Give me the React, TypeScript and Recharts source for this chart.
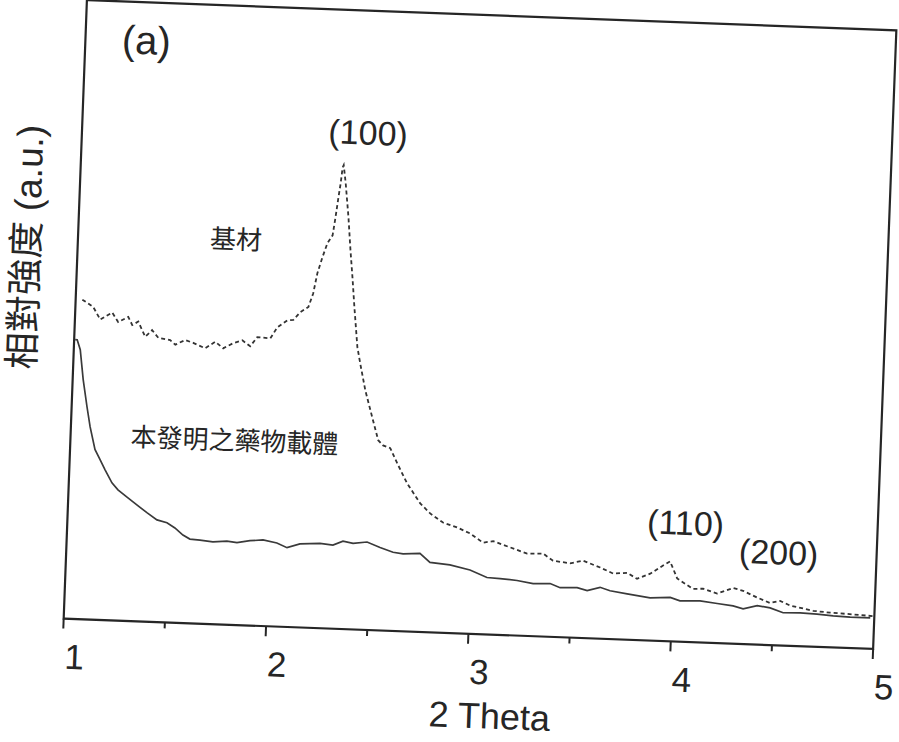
import React from "react";
import { LineChart, Line, XAxis, YAxis, ReferenceArea } from "recharts";

// 2 Theta positions and relative intensities (a.u.)
const substrateX = [
  1.033, 1.088, 1.125, 1.183, 1.214, 1.263, 1.284, 1.313, 1.35, 1.383, 1.415, 1.474, 1.5, 1.548, 1.588,
  1.648, 1.697, 1.737, 1.786, 1.83, 1.87, 1.903, 1.968, 2.0, 2.048, 2.078, 2.111, 2.15, 2.171, 2.188,
  2.21, 2.232, 2.256, 2.267, 2.278, 2.286, 2.293, 2.298, 2.311, 2.331, 2.347, 2.362, 2.377, 2.399, 2.416,
  2.446, 2.485, 2.519, 2.544, 2.58, 2.617, 2.67, 2.737, 2.789, 2.854, 2.924, 2.99, 3.055, 3.105, 3.19,
  3.275, 3.354, 3.404, 3.489, 3.552, 3.638, 3.703, 3.772, 3.822, 3.886, 3.948, 3.982, 4.02, 4.1, 4.15,
  4.22, 4.298, 4.348, 4.418, 4.483, 4.532, 4.583, 4.697, 4.781, 4.865, 4.994,
];
const substrateY = [
  51.6, 50.5, 48.5, 49.7, 48.2, 49.1, 47.8, 48.4, 46.0, 47.1, 45.9, 45.6, 44.9, 45.7, 45.3,
  44.5, 45.6, 44.6, 45.5, 46.0, 45.1, 46.6, 46.5, 48.3, 49.5, 49.6, 50.9, 51.8, 54.0, 57.3,
  59.9, 62.2, 63.5, 66.4, 69.7, 71.9, 74.5, 74.9, 72.0, 66.5, 61.2, 56.8, 52.0, 45.6, 43.0,
  38.7, 34.4, 30.7, 29.9, 29.5, 27.1, 23.9, 20.8, 19.2, 17.8, 17.1, 16.2, 14.8, 15.1, 14.2,
  13.3, 13.4, 12.3, 12.0, 12.5, 11.5, 10.6, 10.8, 9.9, 10.8, 12.2, 12.9, 10.2, 8.6, 8.7,
  8.0, 9.0, 8.6, 7.6, 6.8, 7.2, 6.5, 5.8, 5.6, 5.5, 5.3,
];
const carrierX = [
  1.005, 1.015, 1.032, 1.052, 1.076, 1.095, 1.123, 1.15, 1.176, 1.213, 1.244, 1.29, 1.34, 1.391, 1.442,
  1.492, 1.532, 1.573, 1.608, 1.658, 1.722, 1.791, 1.841, 1.905, 1.969, 2.038, 2.089, 2.152, 2.251, 2.315,
  2.364, 2.414, 2.483, 2.548, 2.613, 2.663, 2.746, 2.797, 2.896, 2.996, 3.081, 3.146, 3.23, 3.31, 3.394,
  3.444, 3.528, 3.578, 3.641, 3.691, 3.776, 3.89, 3.989, 4.038, 4.137, 4.222, 4.301, 4.351, 4.42, 4.484,
  4.549, 4.633, 4.717, 4.797, 4.881, 4.98,
];
const carrierY = [
  45.1, 45.1, 43.5, 38.7, 34.3, 31.1, 27.5, 25.9, 24.3, 22.2, 21.1, 20.0, 18.8, 17.6, 16.5,
  16.1, 15.3, 14.2, 13.6, 13.5, 13.3, 13.5, 13.3, 13.7, 13.9, 13.5, 12.8, 13.5, 13.7, 13.5,
  14.2, 13.9, 14.2, 13.4, 12.7, 12.5, 12.7, 11.3, 11.0, 10.3, 9.2, 9.1, 8.9, 8.5, 8.6,
  8.0, 8.1, 7.7, 8.3, 7.8, 7.4, 6.9, 7.1, 6.6, 6.7, 6.4, 6.1, 5.7, 6.3, 6.0,
  5.3, 5.4, 5.3, 5.1, 5.0, 5.0,
];
const xTicks = [1, 1.5, 2, 2.5, 3, 3.5, 4, 4.5, 5];
const xDomain = [1, 5];
const yDomain = [0, 100];

const substrate = substrateX.map((x, i) => ({ x, y: substrateY[i] }));
const carrier = carrierX.map((x, i) => ({ x, y: carrierY[i] }));

const LATIN = '"Liberation Sans", Arial, "Noto Sans CJK TC", sans-serif';
const CJK = '"Noto Sans CJK TC", "Noto Sans CJK SC", sans-serif';
const INK = "#262626";

function Tick(props: any) {
  const { x, y, payload } = props;
  const v = payload.value;
  const major = Number.isInteger(v);
  return (
    <g>
      <line x1={x} y1={y} x2={x} y2={y + (major ? 10 : 6)} stroke={INK} strokeWidth={2} />
      {major && (
        <text x={x + 12} y={y + 50} textAnchor="middle" fontSize={35} fontFamily={LATIN} fill={INK}>
          {v}
        </text>
      )}
    </g>
  );
}

function Note(p: { x: number; y: number; size: number; font: string; children: React.ReactNode; rotate?: boolean }) {
  return (
    <div
      style={{
        position: "absolute",
        left: p.x,
        top: p.y,
        transform: `translate(-50%, -50%)${p.rotate ? " rotate(-90deg)" : ""}`,
        fontSize: p.size,
        fontFamily: p.font,
        lineHeight: 1,
        whiteSpace: "nowrap",
        color: INK,
      }}
    >
      {p.children}
    </div>
  );
}

export default function App() {
  return (
    <div style={{ position: "absolute", left: 0, top: 0, width: 899, height: 742, overflow: "hidden", background: "#fff" }}>
      <div
        style={{
          position: "relative",
          width: 940,
          height: 742,
          transform: "rotate(2.15deg)",
          transformOrigin: "480.1px 324.8px",
        }}
      >
        <LineChart width={940} height={742} margin={{ top: 15, right: 55, bottom: 48, left: 75 }} style={{ overflow: "visible" }}>
          <XAxis
            dataKey="x"
            type="number"
            domain={xDomain}
            ticks={xTicks}
            interval={0}
            allowDataOverflow
            axisLine={false}
            tickLine={false}
            tickSize={0}
            tickMargin={0}
            height={60}
            tick={<Tick />}
          />
          <YAxis hide type="number" domain={yDomain} allowDataOverflow />
          <Line
            data={substrate}
            dataKey="y"
            type="linear"
            stroke="#333"
            strokeWidth={1.8}
            strokeDasharray="4 3"
            dot={false}
            isAnimationActive={false}
          />
          <Line
            data={carrier}
            dataKey="y"
            type="linear"
            stroke="#3a3a3a"
            strokeWidth={1.7}
            dot={false}
            isAnimationActive={false}
          />
          <ReferenceArea x1={1} x2={5} y1={0} y2={100} fill="none" fillOpacity={0} stroke={INK} strokeWidth={2.2} />
        </LineChart>
        <Note x={136} y={53} size={40} font={LATIN}>(a)</Note>
        <Note x={361} y={137} size={34} font={LATIN}>(100)</Note>
        <Note x={693} y={515} size={34} font={LATIN}>(110)</Note>
        <Note x={787} y={541} size={34} font={LATIN}>(200)</Note>
        <Note x={233} y={247} size={26} font={CJK}>基材</Note>
        <Note x={239} y={448} size={26} font={CJK}>本發明之藥物載體</Note>
        <Note x={504} y={716} size={36} font={LATIN}>2 Theta</Note>
        <Note x={23.5} y={264} size={37} font={LATIN} rotate>相對強度 (a.u.)</Note>
      </div>
    </div>
  );
}
